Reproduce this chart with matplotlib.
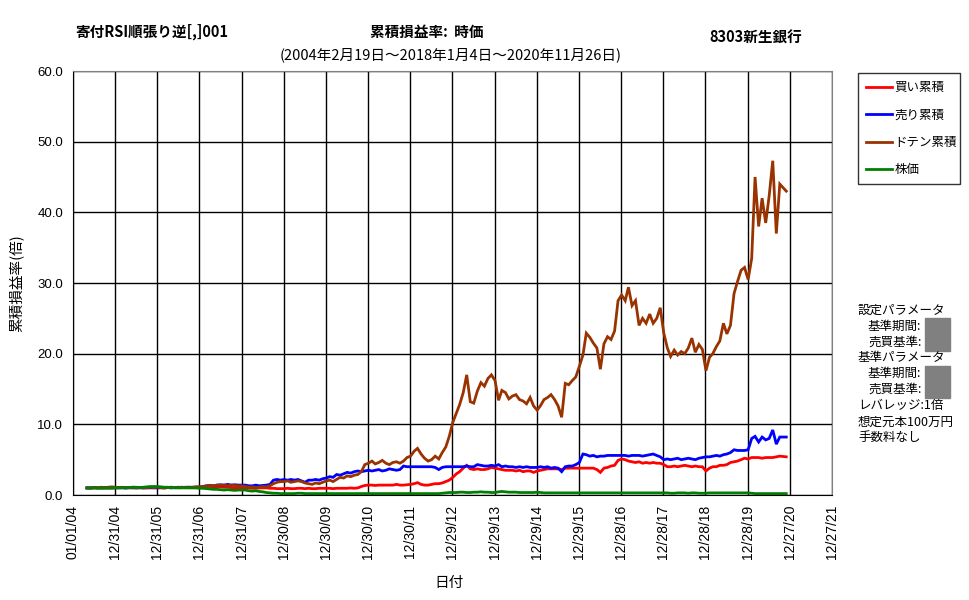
import numpy as np
import pandas as pd
import matplotlib
matplotlib.use("Agg")
import matplotlib.pyplot as plt
from matplotlib.patches import Rectangle

plt.rcParams['font.family'] = ['Noto Sans CJK JP', 'DejaVu Sans']

# monthly samples, May 2004 .. Oct 2020, then the last day 2020-11-26
dates = pd.date_range('2004-05-01', '2020-10-01', freq='MS').append(pd.DatetimeIndex(['2020-11-26']))

buy_cum = [
    1.0, 1.0, 1.0, 1.0, 1.05, 1.0, 1.0, 1.0,
    1.05, 1.0, 1.05, 1.05, 1.0, 1.05, 1.05, 1.0, 1.05, 1.05, 1.0, 1.05,
    1.05, 1.0, 1.05, 1.05, 1.1, 1.05, 1.05, 1.1, 1.05, 1.1, 1.1, 1.1,
    1.1, 1.15, 1.2, 1.2, 1.15, 1.2, 1.15, 1.1, 1.1, 1.05, 1.0, 1.05,
    1.0, 1.0, 1.0, 0.95, 0.95, 1.0, 1.0, 1.0, 0.95, 0.95, 0.9, 0.9,
    0.9, 0.95, 0.9, 0.9, 0.95, 0.95, 0.9, 0.95, 0.9, 0.9, 0.95, 0.95,
    0.95, 0.95, 0.9, 0.95, 0.95, 0.95, 0.95, 1.0, 0.95, 1.0, 1.2, 1.35,
    1.4, 1.4, 1.35, 1.4, 1.4, 1.4, 1.4, 1.4, 1.5, 1.4, 1.4, 1.45,
    1.5, 1.6, 1.75, 1.5, 1.4, 1.4, 1.5, 1.6, 1.6, 1.7, 1.9, 2.1,
    2.5, 3.0, 3.3, 3.8, 4.2, 3.7, 3.6, 3.7, 3.6, 3.6, 3.7, 3.9,
    3.8, 3.7, 3.6, 3.5, 3.5, 3.5, 3.4, 3.5, 3.3, 3.4, 3.4, 3.2,
    3.4, 3.5, 3.6, 3.7, 3.7, 3.7, 3.7, 3.6, 3.8, 3.8, 3.8, 3.8,
    3.8, 3.8, 3.8, 3.8, 3.8, 3.6, 3.2, 3.8, 3.9, 4.1, 4.2, 4.9,
    5.1, 5.0, 4.8, 4.7, 4.6, 4.7, 4.5, 4.6, 4.5, 4.6, 4.5, 4.5,
    4.3, 4.0, 4.0, 4.1, 4.0, 4.1, 4.2, 4.1, 4.0, 4.1, 4.0, 4.0,
    3.4, 3.8, 4.0, 4.0, 4.2, 4.2, 4.3, 4.6, 4.7, 4.8, 5.0, 5.2,
    5.1, 5.3, 5.3, 5.3, 5.2, 5.3, 5.3, 5.3, 5.4, 5.5, 5.4,
]

sell_cum = [
    1.0, 1.0, 1.05, 1.0, 1.0, 1.05, 1.0, 1.0,
    1.0, 1.05, 1.0, 1.0, 1.05, 1.0, 1.0, 1.05, 1.0, 1.0, 1.05, 1.0,
    1.0, 1.05, 1.0, 1.05, 1.0, 1.05, 1.1, 1.05, 1.1, 1.1, 1.05, 1.1,
    1.1, 1.2, 1.3, 1.35, 1.3, 1.4, 1.45, 1.4, 1.5, 1.4, 1.45, 1.4,
    1.4, 1.4, 1.3, 1.3, 1.4, 1.3, 1.35, 1.4, 1.5, 2.1, 2.2, 2.1,
    2.2, 2.1, 2.2, 2.1, 2.2, 2.0, 1.8, 2.1, 2.1, 2.2, 2.1, 2.3,
    2.4, 2.6, 2.5, 2.9, 2.8, 3.0, 3.2, 3.1, 3.3, 3.4, 3.3, 3.4,
    3.5, 3.4, 3.5, 3.6, 3.4, 3.5, 3.7, 3.6, 3.5, 3.6, 4.1, 4.0,
    4.0, 4.0, 4.0, 4.0, 4.0, 4.0, 4.0, 3.9, 3.6, 3.9, 4.0, 4.0,
    4.0, 4.0, 4.0, 4.0, 4.1, 4.0, 4.0, 4.3, 4.2, 4.1, 4.1, 4.2,
    4.1, 4.3, 4.0, 4.1, 4.0, 4.0, 3.9, 4.0, 3.9, 4.0, 3.9, 3.9,
    3.9, 4.0, 3.9, 4.0, 3.8, 3.9, 3.8, 3.3, 4.0, 4.1, 4.1, 4.3,
    4.6, 5.8, 5.7, 5.5, 5.6, 5.4, 5.5, 5.5, 5.6, 5.6, 5.6, 5.6,
    5.6, 5.6, 5.5, 5.6, 5.6, 5.6, 5.5, 5.6, 5.7, 5.8, 5.6, 5.4,
    5.0, 5.1, 5.0, 5.1, 5.2, 5.0, 5.1, 5.2, 5.1, 5.0, 5.2, 5.3,
    5.4, 5.4, 5.5, 5.6, 5.5, 5.7, 5.8, 6.0, 6.4, 6.3, 6.3, 6.3,
    6.4, 8.0, 8.3, 7.5, 8.2, 7.8, 8.0, 9.2, 7.2, 8.2, 8.2,
]

doten_cum = [
    1.0, 1.0, 1.05, 1.0, 1.1, 1.05, 1.1, 1.15,
    1.1, 1.05, 1.1, 1.0, 1.05, 1.1, 1.0, 1.05, 1.0, 1.05, 1.1, 1.05,
    1.1, 1.05, 1.0, 1.05, 1.1, 1.0, 1.05, 1.1, 1.0, 1.05, 1.1, 1.15,
    1.15, 1.2, 1.3, 1.35, 1.3, 1.4, 1.35, 1.4, 1.3, 1.4, 1.35, 1.3,
    1.3, 1.2, 1.1, 1.15, 1.05, 1.1, 1.2, 1.15, 1.3, 1.6, 1.8, 1.9,
    1.9, 2.0, 1.8, 1.9, 2.0, 1.9, 1.7, 1.6, 1.5, 1.7, 1.6, 1.8,
    2.0, 2.1, 1.9, 2.2, 2.5, 2.4, 2.7, 2.6, 2.8, 2.9, 3.3, 4.3,
    4.5, 4.8, 4.4, 4.6, 4.9, 4.5, 4.3, 4.6, 4.7, 4.5, 4.8, 5.3,
    5.5, 6.2, 6.6, 5.8, 5.2, 4.8, 5.0, 5.5, 5.1, 6.0, 6.8, 8.3,
    10.3, 11.6, 12.8, 14.5, 17.0, 13.2, 13.0, 14.7, 15.9, 15.4, 16.5, 17.0,
    16.2, 13.4, 14.8, 14.5, 13.6, 14.0, 14.2, 13.5, 13.3, 12.9, 13.8, 12.6,
    12.0, 12.7, 13.5, 13.8, 14.2, 13.5, 12.6, 11.0, 15.8, 15.6, 16.2, 16.7,
    18.2, 19.8, 22.9, 22.3, 21.5, 20.8, 17.8, 21.4, 22.4, 22.0, 23.2, 27.5,
    28.3, 27.5, 29.4, 26.8, 27.5, 24.0, 25.0, 24.3, 25.6, 24.3, 25.0, 26.5,
    22.9, 20.8, 19.6, 20.5, 19.8, 20.3, 20.0, 20.8, 22.2, 20.2, 21.3, 20.6,
    17.6, 19.5, 20.0, 21.0, 21.8, 24.3, 22.8, 24.0, 28.5, 30.2, 31.8, 32.2,
    30.5, 33.5, 45.0, 38.0, 42.0, 38.5, 42.3, 47.3, 37.0, 44.0, 43.0,
]

price = [
    1.0, 0.95, 1.0, 1.0, 0.95, 0.95, 1.0, 1.0,
    1.0, 1.0, 1.05, 1.0, 1.05, 1.1, 1.1, 1.05, 1.1, 1.15, 1.2, 1.2,
    1.2, 1.15, 1.1, 1.1, 1.05, 1.05, 1.0, 1.0, 1.05, 1.0, 1.0, 1.0,
    0.95, 0.95, 0.9, 0.85, 0.8, 0.8, 0.75, 0.7, 0.75, 0.7, 0.65, 0.7,
    0.7, 0.7, 0.6, 0.55, 0.6, 0.5, 0.45, 0.35, 0.3, 0.25, 0.25, 0.2,
    0.2, 0.2, 0.2, 0.2, 0.25, 0.25, 0.2, 0.2, 0.2, 0.2, 0.2, 0.2,
    0.2, 0.2, 0.2, 0.2, 0.2, 0.2, 0.2, 0.2, 0.2, 0.2, 0.2, 0.2,
    0.2, 0.2, 0.2, 0.2, 0.2, 0.2, 0.2, 0.2, 0.2, 0.2, 0.2, 0.2,
    0.2, 0.2, 0.2, 0.2, 0.2, 0.2, 0.2, 0.2, 0.2, 0.25, 0.3, 0.35,
    0.35, 0.35, 0.4, 0.4, 0.35, 0.35, 0.4, 0.4, 0.45, 0.4, 0.4, 0.35,
    0.35, 0.45, 0.5, 0.45, 0.4, 0.4, 0.4, 0.35, 0.35, 0.35, 0.35, 0.35,
    0.4, 0.35, 0.3, 0.3, 0.3, 0.3, 0.3, 0.3, 0.3, 0.3, 0.3, 0.3,
    0.3, 0.3, 0.3, 0.3, 0.3, 0.3, 0.3, 0.3, 0.3, 0.3, 0.3, 0.3,
    0.3, 0.3, 0.3, 0.3, 0.3, 0.3, 0.3, 0.3, 0.3, 0.3, 0.3, 0.3,
    0.3, 0.3, 0.25, 0.25, 0.3, 0.3, 0.3, 0.25, 0.3, 0.3, 0.25, 0.25,
    0.25, 0.3, 0.3, 0.3, 0.3, 0.3, 0.3, 0.3, 0.3, 0.3, 0.3, 0.3,
    0.3, 0.25, 0.2, 0.2, 0.2, 0.2, 0.2, 0.2, 0.2, 0.2, 0.2,
]

series_names = ['買い累積', '売り累積', 'ドテン累積', '株価']
series_colors = ['#FF0000', '#0000FF', '#993300', '#008000']

W, H = 970, 600
fig = plt.figure(figsize=(W / 100, H / 100), dpi=100)
ax = fig.add_axes([73 / W, 1 - 495 / H, (832 - 73) / W, (495 - 71) / H])

for vals, name, col in zip([buy_cum, sell_cum, doten_cum, price], series_names, series_colors):
    ax.plot(dates, vals, color=col, lw=2.0, label=name, solid_joinstyle='miter')

xticks = pd.date_range('2004-01-01', periods=19, freq='365D')
ax.set_xlim(xticks[0], xticks[-1])
ax.set_xticks(xticks)
ax.set_xticklabels([d.strftime('%m/%d/%y') for d in xticks], rotation=90,
                   fontsize=10, family=['Liberation Sans'])
ax.set_ylim(0, 60)
ax.set_yticks(np.arange(0, 61, 10))
ax.set_yticklabels(['%.1f' % v for v in np.arange(0, 61, 10)], fontsize=9.5, family=['Liberation Sans'])
ax.tick_params(length=0, pad=7)
ax.grid(True, color='black', lw=1)
ax.set_axisbelow(True)
for s in ['left', 'bottom']:
    ax.spines[s].set_color('black')
for s in ['top', 'right']:
    ax.spines[s].set_color('#808080')

ax.set_ylabel('累積損益率(倍)', fontsize=10.5, labelpad=10)
fig.text(449 / W, 1 - 583 / H, '日付', fontsize=10.5, ha='center', va='center')

fig.text(75 / W, 1 - 32 / H, '寄付RSI順張り逆[,]001', fontsize=10.5, fontweight='bold', va='center')
fig.text(370 / W, 1 - 32 / H, '累積損益率:  時価', fontsize=10.5, fontweight='bold', va='center')
fig.text(709 / W, 1 - 38 / H, '8303新生銀行', fontsize=10.5, fontweight='bold', va='center')
fig.text(451 / W, 1 - 55 / H, '(2004年2月19日～2018年1月4日～2020年11月26日)', fontsize=10.5,
         ha='center', va='center')

# legend box fixed to 858..960 x 73..183 px
leg = fig.legend(*ax.get_legend_handles_labels(), loc='upper left', mode='expand',
                 bbox_to_anchor=(858 / W, 1 - 183 / H, 102 / W, 110 / H),
                 fontsize=9, frameon=True, fancybox=False, handlelength=2.1, handletextpad=0.15,
                 labelspacing=1.15, borderpad=0.65, borderaxespad=0)
leg.get_frame().set_edgecolor('black')
leg.get_frame().set_linewidth(1)

notes = [
    (858, 310, '設定パラメータ'),
    (868, 326, '基準期間:'),
    (868, 342, '売買基準:'),
    (858, 357, '基準パラメータ'),
    (868, 373, '基準期間:'),
    (868, 389, '売買基準:'),
    (858, 406, 'レバレッジ:1倍'),
    (858, 422, '想定元本100万円'),
    (858, 437, '手数料なし'),
]
for x, y, t in notes:
    fig.text(x / W, 1 - y / H, t, fontsize=9, va='center')
for y0, y1 in [(318, 351), (366, 398)]:
    fig.patches.append(Rectangle((925 / W, 1 - y1 / H), 25 / W, (y1 - y0) / H,
                                 transform=fig.transFigure, color='#808080', zorder=3))

fig.savefig('out.png', dpi=100)
